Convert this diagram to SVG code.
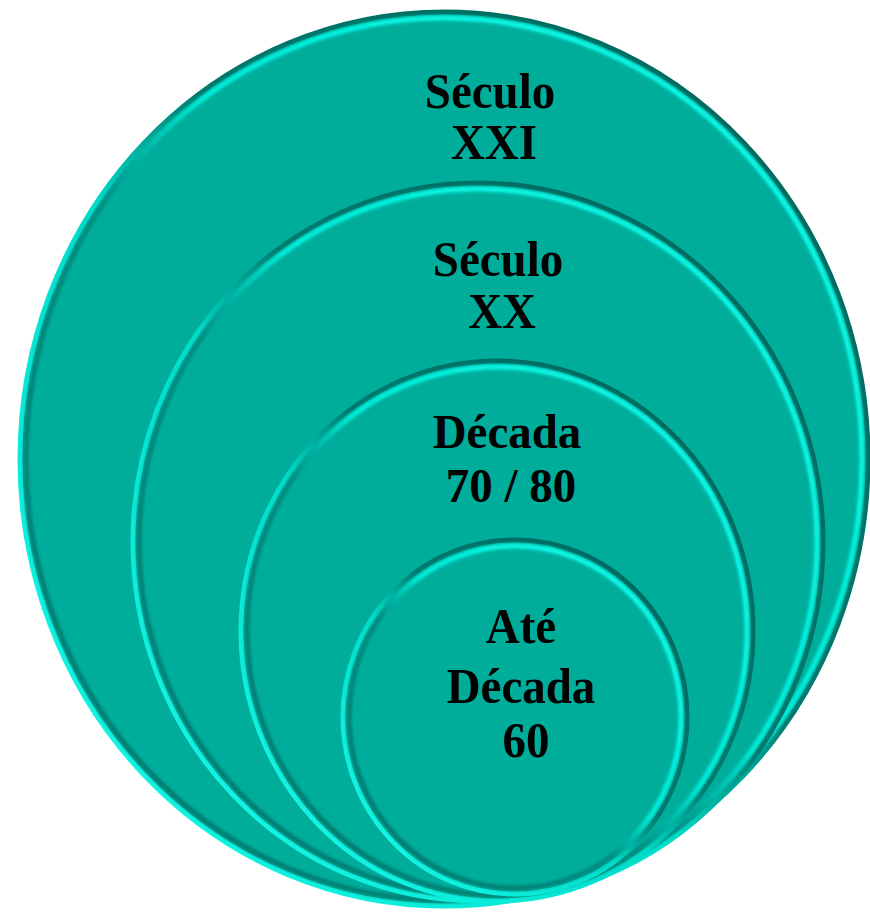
<svg xmlns="http://www.w3.org/2000/svg" width="870" height="915" viewBox="0 0 870 915">
  <defs>
    <linearGradient id="rim" x1="1" y1="0" x2="0" y2="1">
      <stop offset="0" stop-color="#006258"/>
      <stop offset="0.44" stop-color="#007a6e"/>
      <stop offset="0.56" stop-color="#00dcc8"/>
      <stop offset="1" stop-color="#1cfff0"/>
    </linearGradient>
    <linearGradient id="inner" x1="1" y1="0" x2="0" y2="1">
      <stop offset="0" stop-color="#14fff0"/>
      <stop offset="0.44" stop-color="#00f0dc"/>
      <stop offset="0.56" stop-color="#008c80"/>
      <stop offset="1" stop-color="#007468"/>
    </linearGradient>
    <filter id="soft" x="-5%" y="-5%" width="110%" height="110%">
      <feGaussianBlur stdDeviation="1.6"/>
    </filter>
    <style>
      .fill { fill: #00ad9b; stroke: url(#rim); stroke-width: 5; }
      .hl { fill: none; stroke: url(#inner); stroke-width: 5; filter: url(#soft); }
      .lbl { font-family: "Liberation Serif", "Times New Roman", serif; font-weight: bold; font-size: 46px; fill: #000; text-anchor: middle; }
    </style>
  </defs>

  <g id="node-seculo-xxi">
    <ellipse class="fill" cx="444" cy="459" rx="424" ry="447"/>
    <ellipse class="hl" cx="444" cy="459" rx="418" ry="441"/>
    <text class="lbl" transform="translate(490,108) scale(1.02,1.1)">Século</text>
    <text class="lbl" transform="translate(494,159) scale(1.02,1.1)">XXI</text>
  </g>

  <g id="node-seculo-xx">
    <ellipse class="fill" cx="478" cy="542" rx="345" ry="359"/>
    <ellipse class="hl" cx="478" cy="542" rx="339" ry="353"/>
    <text class="lbl" transform="translate(498,276) scale(1.02,1.08)">Século</text>
    <text class="lbl" transform="translate(502,328) scale(1.02,1.08)">XX</text>
  </g>

  <g id="node-decada-70-80">
    <ellipse class="fill" cx="497" cy="631" rx="256" ry="270"/>
    <ellipse class="hl" cx="497" cy="631" rx="250" ry="264"/>
    <text class="lbl" transform="translate(507,448) scale(1.02,1.04)">Década</text>
    <text class="lbl" transform="translate(511,502) scale(1.02,1.04)">70 / 80</text>
  </g>

  <g id="node-ate-decada-60">
    <ellipse class="fill" cx="515" cy="717" rx="172" ry="177"/>
    <ellipse class="hl" cx="515" cy="717" rx="166" ry="171"/>
    <text class="lbl" transform="translate(521,643) scale(1.02,1.1)">Até</text>
    <text class="lbl" transform="translate(521,703) scale(1.02,1.1)">Década</text>
    <text class="lbl" transform="translate(526,757) scale(1.02,1.1)">60</text>
  </g>

  <g id="connectors"/>
</svg>
